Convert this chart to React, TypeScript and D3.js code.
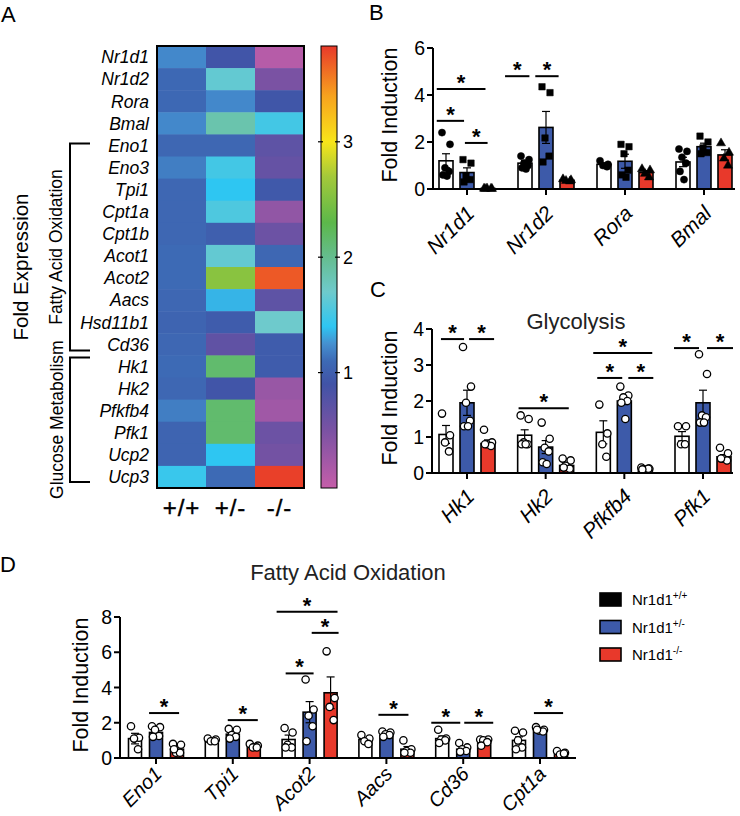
import React from "react";
import * as d3 from "d3";

const FONT = "'Liberation Sans', Arial, Helvetica, sans-serif";

// ---------- Panel A: heatmap ----------
const heatGenes = ["Nr1d1", "Nr1d2", "Rora", "Bmal", "Eno1", "Eno3", "Tpi1", "Cpt1a", "Cpt1b", "Acot1",
  "Acot2", "Aacs", "Hsd11b1", "Cd36", "Hk1", "Hk2", "Pfkfb4", "Pfk1", "Ucp2", "Ucp3"];
const heatGenotypes = ["+/+", "+/-", "-/-"];
const heatWT = [1.22, 1.08, 1.08, 1.22, 1.07, 1.18, 1.07, 1.07, 1.07, 1.1, 1.1, 1.07, 1.05, 1.07, 1.1, 1.07, 1.18, 1.05, 1.05, 1.45];
const heatHet = [0.92, 1.65, 1.22, 1.85, 1.07, 1.5, 1.4, 1.55, 1.0, 1.65, 2.55, 1.35, 0.98, 0.68, 2.15, 0.92, 2.15, 2.15, 1.4, 1.1];
const heatKO = [0.1, 0.5, 0.93, 1.5, 0.7, 0.65, 0.95, 0.35, 0.6, 1.07, 3.7, 0.7, 1.7, 0.98, 0.98, 0.3, 0.25, 0.6, 0.55, 3.8];
const colorTicks = [1, 2, 3];
const colorMax = 3.83;
const colorDomain = [0, 0.5, 0.9, 1.1, 1.25, 1.4, 1.7, 2.0, 2.3, 2.7, 3.0, 3.4, 3.83];
const colorRange = ["#c55ea9", "#7a52a3", "#4153a6", "#3d6ab5", "#4590d0", "#2ec6f2", "#6ecacc",
  "#65bd8f", "#5cb84a", "#a4c93a", "#f7e51a", "#f7a21e", "#e8392a"];

// ---------- Panel B: clock genes ----------
const bGenes = ["Nr1d1", "Nr1d2", "Rora", "Bmal"];
const bWT = [1.2, 1.1, 1.05, 1.15];
const bWTsem = [0.3, 0.12, 0.05, 0.2];
const bHet = [0.7, 2.62, 1.18, 1.8];
const bHetSem = [0.2, 0.68, 0.3, 0.15];
const bKO = [0.02, 0.37, 0.7, 1.45];
const bKOsem = [0.01, 0.03, 0.08, 0.22];
const bWTpts = [[2.4, 1.9, 0.9, 0.75, 0.6, 0.55], [1.4, 1.25, 1.1, 1.0, 0.9, 0.85], [1.2, 1.05, 1.0, 0.95], [1.7, 1.6, 1.35, 1.1, 0.75, 0.4]];
const bHetPts = [[1.25, 1.1, 0.55, 0.4, 0.3], [4.35, 4.1, 2.17, 1.4, 1.15], [1.9, 1.8, 1.5, 0.8, 0.6, 0.5], [2.25, 2.0, 1.75, 1.55, 1.5]];
const bKOpts = [[0.02, 0.01, 0.03, 0.02, 0.01], [0.42, 0.38, 0.35, 0.33], [0.85, 0.8, 0.65, 0.5], [1.95, 1.55, 1.3, 1.0]];
// gene, from slot, to slot (slot -1 = +/+, 0 = +/-, 1 = -/-), height
const bSig: [string, number, number, number][] = [
  ["Nr1d1", -1.44, 0.88, 4.26], ["Nr1d1", -1.44, -0.14, 2.9], ["Nr1d1", -0.1, 0.98, 1.96],
  ["Nr1d2", -1.95, -0.79, 4.8], ["Nr1d2", -0.51, 0.6, 4.8],
];

// ---------- Panel C: glycolysis ----------
const cGenes = ["Hk1", "Hk2", "Pfkfb4", "Pfk1"];
const cWT = [1.07, 1.05, 1.13, 1.02];
const cWTsem = [0.25, 0.15, 0.32, 0.13];
const cHet = [1.95, 0.72, 2.0, 1.95];
const cHetSem = [0.35, 0.18, 0.1, 0.35];
const cKO = [0.82, 0.21, 0.12, 0.45];
const cKOsem = [0.1, 0.05, 0.02, 0.06];
const cWTpts = [[1.65, 1.05, 0.85, 0.6], [1.6, 1.5, 0.85, 0.8, 0.8, 0.8], [1.9, 1.1, 0.8, 0.45], [1.3, 1.3, 0.8, 0.8]];
const cHetPts = [[3.5, 2.4, 1.95, 1.45, 1.3, 1.3], [1.4, 0.95, 0.7, 0.6, 0.3, 0.25], [2.4, 2.15, 2.1, 2.0, 1.95, 1.5], [3.3, 2.75, 1.6, 1.55, 1.4, 1.4]];
const cKOpts = [[1.2, 0.85, 0.8, 0.75, 0.8], [0.4, 0.35, 0.2, 0.12, 0.15], [0.15, 0.12, 0.1, 0.12, 0.1], [0.7, 0.55, 0.4, 0.35, 0.4]];
const cSig: [string, number, number, number][] = [
  ["Hk1", -1.24, -0.14, 3.72], ["Hk1", 0.1, 1.29, 3.72], ["Hk2", -1.29, 1.1, 1.8],
  ["Pfkfb4", -1.48, 1.33, 3.33], ["Pfkfb4", -1.29, -0.1, 2.64], ["Pfkfb4", 0.19, 1.38, 2.64],
  ["Pfk1", -1.38, -0.19, 3.47], ["Pfk1", 0.19, 1.43, 3.47],
];

// ---------- Panel D: fatty acid oxidation ----------
const dGenes = ["Eno1", "Tpi1", "Acot2", "Aacs", "Cd36", "Cpt1a"];
const dWT = [1.1, 1.0, 1.05, 1.05, 1.1, 1.0];
const dWTsem = [0.3, 0.05, 0.25, 0.1, 0.15, 0.2];
const dHet = [1.45, 1.35, 2.6, 1.3, 0.5, 1.6];
const dHetSem = [0.15, 0.1, 0.6, 0.05, 0.1, 0.05];
const dKO = [0.5, 0.65, 3.7, 0.5, 0.9, 0.25];
const dKOsem = [0.1, 0.05, 0.9, 0.15, 0.08, 0.05];
const dWTpts = [[1.8, 1.15, 1.1, 0.5], [1.1, 1.05, 0.95, 0.95], [1.7, 1.45, 0.75, 0.6, 0.6], [1.3, 1.1, 0.95, 0.8], [1.6, 1.1, 1.05, 1.0, 0.85], [1.55, 1.45, 1.0, 0.6, 0.5]];
const dHetPts = [[1.8, 1.75, 1.6, 1.25, 1.2], [1.65, 1.6, 1.3, 1.2, 1.1], [4.45, 2.75, 2.4, 1.8, 0.95], [1.5, 1.45, 1.35, 1.3, 1.2], [0.85, 0.6, 0.5, 0.4, 0.35], [1.75, 1.6, 1.55, 1.5, 1.6]];
const dKOpts = [[0.8, 0.75, 0.3, 0.3, 0.5], [0.8, 0.7, 0.6, 0.6], [6.05, 3.4, 2.9, 2.15], [1.0, 0.5, 0.4, 0.3, 0.3], [1.05, 1.05, 1.0, 0.9, 0.7], [0.4, 0.3, 0.2, 0.25]];
const dSig: [string, number, number, number][] = [
  ["Eno1", -0.33, 1.1, 2.55], ["Tpi1", -0.24, 1.19, 2.15],
  ["Acot2", -1.57, 1.33, 8.3], ["Acot2", 0.1, 1.38, 7.1], ["Acot2", -1.14, 0.19, 4.8],
  ["Aacs", -0.38, 1.05, 2.45], ["Cd36", -1.52, -0.14, 2.0], ["Cd36", 0.05, 1.43, 2.0],
  ["Cpt1a", -0.29, 1.1, 2.55],
];

const legendLabels = ["+/+", "+/-", "-/-"];
const barFills = ["#ffffff", "#3d5aa9", "#e8392b"];
const legendFills = ["#000000", "#3d5aa9", "#e8392b"];
const jitter = [-4, 4, -1, 3, -3, 1];

function Heatmap() {
  const x = d3.scaleBand<string>().domain(heatGenotypes).range([157, 304]);
  const y = d3.scaleBand<string>().domain(heatGenes).range([46, 488]);
  const color = d3.scaleLinear<string>().domain(colorDomain).range(colorRange).clamp(true);
  const cb = d3.scaleLinear().domain([0, colorMax]).range([488, 46]);
  const cols = [heatWT, heatHet, heatKO];
  const bw = y.bandwidth();
  const yc = (g: string) => (y(g) as number) + bw / 2;
  const fa0 = yc("Eno1") - 2, fa1 = (y("Cd36") as number) + bw * 0.78;
  const gl0 = (y("Hk1") as number) + 2, gl1 = yc("Ucp3") + 5;
  return (
    <g fontFamily={FONT}>
      <defs>
        <linearGradient id="cbar" x1="0" y1="1" x2="0" y2="0">
          {colorDomain.map((v, i) => (
            <stop key={i} offset={v / colorMax} stopColor={colorRange[i]} />
          ))}
        </linearGradient>
      </defs>
      {heatGenes.map((g, r) =>
        heatGenotypes.map((gt, c) => (
          <rect key={g + gt} x={x(gt)} y={y(g)} width={x.bandwidth() + 0.5} height={bw + 0.5} fill={color(cols[c][r])} />
        ))
      )}
      <rect x={157} y={46} width={147} height={442} fill="none" stroke="#000" strokeWidth={2} />
      {heatGenes.map((g) => (
        <text key={g} x={149} y={yc(g)} dy="0.36em" textAnchor="end" fontSize={17.5} fontStyle="italic">{g}</text>
      ))}
      {heatGenotypes.map((gt) => (
        <text key={gt} x={(x(gt) as number) + x.bandwidth() / 2} y={516} textAnchor="middle" fontSize={24}
          letterSpacing={1} stroke="#000" strokeWidth={0.4}>{gt}</text>
      ))}
      {/* colour bar */}
      <rect x={321} y={cb(colorMax)} width={16} height={cb(0) - cb(colorMax)} fill="url(#cbar)" stroke="#000" strokeWidth={1} />
      {colorTicks.map((t) => (
        <g key={t}>
          <line x1={318} x2={323} y1={cb(t)} y2={cb(t)} stroke="#000" strokeWidth={1.2} />
          <line x1={335} x2={340} y1={cb(t)} y2={cb(t)} stroke="#000" strokeWidth={1.2} />
          <text x={343} y={cb(t)} dy="0.36em" fontSize={18}>{t}</text>
        </g>
      ))}
      {/* brackets */}
      <path d={`M90,${fa0}H70V${fa1}H90`} fill="none" stroke="#000" strokeWidth={2} />
      <path d={`M90,${gl0}H70V${gl1}H90`} fill="none" stroke="#000" strokeWidth={2} />
      <text transform={`translate(62,${(fa0 + fa1) / 2}) rotate(-90)`} textAnchor="middle" fontSize={17.5}>Fatty Acid Oxidation</text>
      <text transform={`translate(63,${(gl0 + gl1) / 2}) rotate(-90)`} textAnchor="middle" fontSize={17.5}>Glucose Metabolism</text>
      <text transform={`translate(28,267) rotate(-90)`} textAnchor="middle" fontSize={20.5}>Fold Expression</text>
    </g>
  );
}

type BarProps = {
  genes: string[];
  means: number[][];
  sems: number[][];
  pts: number[][][];
  sig: [string, number, number, number][];
  yMax: number;
  yTicks: number[];
  axisX: number;
  axisEnd: number;
  c0: number;
  c1: number;
  top: number;
  bottom: number;
  barW: number;
  filled: boolean;
  label: [number, number, number];
  ylabel: [number, number];
};

function BarPanel(p: BarProps) {
  const slot = 21;
  const x = d3.scalePoint<string>().domain(p.genes).range([p.c0, p.c1]);
  const y = d3.scaleLinear().domain([0, p.yMax]).range([p.bottom, p.top]);
  const shapes = p.filled
    ? [d3.symbol(d3.symbolCircle, 40), d3.symbol(d3.symbolSquare, 42), d3.symbol(d3.symbolTriangle, 36)]
    : [d3.symbol(d3.symbolCircle, 42), d3.symbol(d3.symbolCircle, 42), d3.symbol(d3.symbolCircle, 42)];
  const bx = (g: string, k: number) => (x(g) as number) + (k - 1) * slot;
  const [ldx, ldy, lfs] = p.label;
  return (
    <g fontFamily={FONT}>
      {p.genes.map((g, gi) =>
        [0, 1, 2].map((k) => {
          const m = p.means[k][gi];
          const s = p.sems[k][gi];
          const cx = bx(g, k);
          return (
            <g key={g + k}>
              <rect x={cx - p.barW / 2} y={y(m)} width={p.barW} height={p.bottom - y(m)} fill={barFills[k]} stroke="#000" strokeWidth={1.6} />
              <line x1={cx} x2={cx} y1={y(Math.max(0, m - s))} y2={y(m + s)} stroke="#000" strokeWidth={1.2} />
              <line x1={cx - 4} x2={cx + 4} y1={y(m + s)} y2={y(m + s)} stroke="#000" strokeWidth={1.2} />
              <line x1={cx - 4} x2={cx + 4} y1={y(Math.max(0, m - s))} y2={y(Math.max(0, m - s))} stroke="#000" strokeWidth={1.2} />
              {p.pts[k][gi].map((v, j) => (
                <path key={j} transform={`translate(${cx + jitter[j % jitter.length]},${y(v)})`} d={shapes[k]() as string}
                  fill={p.filled ? "#000" : "#fff"} stroke="#000" strokeWidth={p.filled ? 0.5 : 1.3} />
              ))}
            </g>
          );
        })
      )}
      {/* axes */}
      <line x1={p.axisX} x2={p.axisX} y1={p.top} y2={p.bottom} stroke="#000" strokeWidth={2} />
      <line x1={p.axisX - 1} x2={p.axisEnd} y1={p.bottom} y2={p.bottom} stroke="#000" strokeWidth={2} />
      {p.yTicks.map((t) => (
        <g key={t}>
          <line x1={p.axisX - 6} x2={p.axisX} y1={y(t)} y2={y(t)} stroke="#000" strokeWidth={2} />
          <text x={p.axisX - 8} y={y(t)} dy="0.36em" textAnchor="end" fontSize={19.5}>{t}</text>
        </g>
      ))}
      {p.genes.map((g) => (
        <g key={g}>
          <line x1={x(g)} x2={x(g)} y1={p.bottom} y2={p.bottom + 6} stroke="#000" strokeWidth={2} />
          <text transform={`translate(${(x(g) as number) + ldx},${p.bottom + ldy}) rotate(-45)`} dy="0.72em"
            textAnchor="end" fontSize={lfs} fontStyle="italic">{g}</text>
        </g>
      ))}
      {p.sig.map(([g, a, b, v], i) => {
        const xa = (x(g) as number) + a * slot;
        const xb = (x(g) as number) + b * slot;
        return (
          <g key={i}>
            <line x1={xa} x2={xb} y1={y(v)} y2={y(v)} stroke="#000" strokeWidth={2} />
            <text x={(xa + xb) / 2} y={y(v) + 1} textAnchor="middle" fontSize={22} fontWeight="bold">*</text>
          </g>
        );
      })}
      <text transform={`translate(${p.ylabel[0]},${p.ylabel[1]}) rotate(-90)`} textAnchor="middle" fontSize={21.5}>Fold Induction</text>
    </g>
  );
}

export default function App() {
  return (
    <svg width={740} height={816} style={{ position: "absolute", left: 0, top: 0, background: "#fff" }}>
      <g fontFamily={FONT} fontSize={22}>
        <text x={1} y={22}>A</text>
        <text x={369} y={20}>B</text>
        <text x={370} y={297}>C</text>
        <text x={0} y={572}>D</text>
        <text x={576} y={329} textAnchor="middle" fill="#222">Glycolysis</text>
        <text x={348} y={580} textAnchor="middle" fill="#222">Fatty Acid Oxidation</text>
      </g>
      <Heatmap />
      <BarPanel genes={bGenes} means={[bWT, bHet, bKO]} sems={[bWTsem, bHetSem, bKOsem]} pts={[bWTpts, bHetPts, bKOpts]}
        sig={bSig} yMax={6} yTicks={[0, 2, 4, 6]} axisX={433} axisEnd={735} c0={467} c1={704} top={48} bottom={189}
        barW={14} filled={true} label={[-2, 15, 21]} ylabel={[397, 115]} />
      <BarPanel genes={cGenes} means={[cWT, cHet, cKO]} sems={[cWTsem, cHetSem, cKOsem]} pts={[cWTpts, cHetPts, cKOpts]}
        sig={cSig} yMax={4} yTicks={[0, 1, 2, 3, 4]} axisX={432} axisEnd={733} c0={467} c1={703} top={329} bottom={473}
        barW={14} filled={false} label={[-2, 14, 21]} ylabel={[397, 398]} />
      <BarPanel genes={dGenes} means={[dWT, dHet, dKO]} sems={[dWTsem, dHetSem, dKOsem]} pts={[dWTpts, dHetPts, dKOpts]}
        sig={dSig} yMax={8} yTicks={[0, 2, 4, 6, 8]} axisX={120} axisEnd={576} c0={156} c1={540} top={617} bottom={758}
        barW={13} filled={false} label={[-3, 7, 20]} ylabel={[88, 685]} />
      <g fontFamily={FONT}>
        {legendLabels.map((l, i) => (
          <g key={l}>
            <rect x={600} y={593 + i * 27.5} width={21} height={13} fill={legendFills[i]} stroke="#000" strokeWidth={1.6} />
            <text x={632} y={605 + i * 27.5} fontSize={15}>
              Nr1d1<tspan fontSize={10} dy={-6}>{l}</tspan>
            </text>
          </g>
        ))}
      </g>
    </svg>
  );
}
